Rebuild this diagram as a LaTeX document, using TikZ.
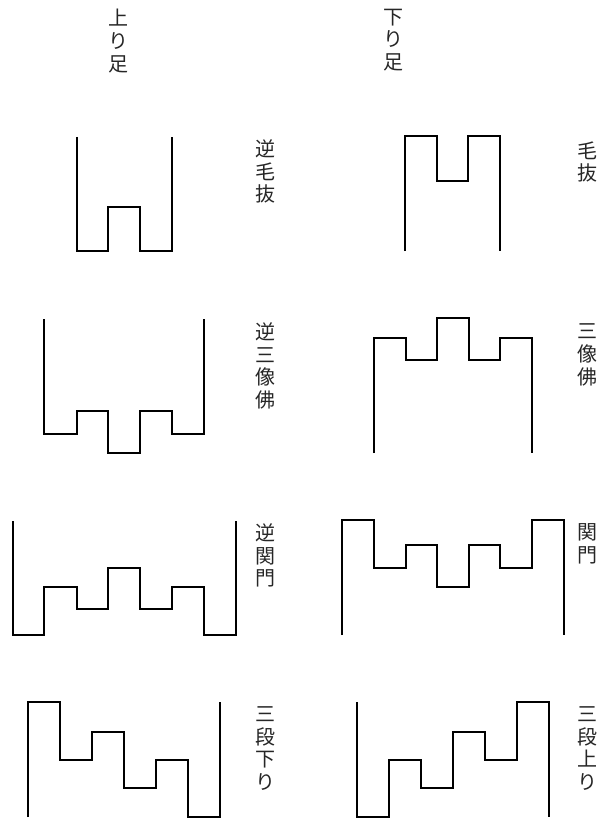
\documentclass[tikz,border=0pt]{standalone}
\usepackage{fontspec}
\newfontfamily\cjk{Noto Sans CJK JP}
\usepackage{tikz}

\begin{document}
\begin{tikzpicture}[x=1pt, y=-1pt,
      leg/.style={draw, line width=1.8pt, line join=miter},
      vlbl/.style={font=\cjk\fontsize{20}{22.7}\selectfont, align=center,
                   inner sep=0pt, text=black!85}
  ]
    \useasboundingbox (0,0) rectangle (603,821);
    \node[vlbl] (hup)   at (118,41)    {上\\り\\足};
    \node[vlbl] (hdown) at (393,40)    {下\\り\\足};
    \node[vlbl] (gkn)   at (265,171.5) {逆\\毛\\抜};
    \node[vlbl] (kn)    at (587,162)   {毛\\抜};
    \node[vlbl] (gsz)   at (265,366)   {逆\\三\\像\\佛};
    \node[vlbl] (sz)    at (587,355)   {三\\像\\佛};
    \node[vlbl] (gkm)   at (265,555.5) {逆\\関\\門};
    \node[vlbl] (km)    at (587,543.5) {関\\門};
    \node[vlbl] (sdn)   at (265,748.5) {三\\段\\下\\り};
    \node[vlbl] (sup)   at (587,748.5) {三\\段\\上\\り};
    \draw[leg] (77,137) -- (77,251) -- (108,251) -- (108,207) -- (140,207)
      -- (140,251) -- (172,251) -- (172,137);
    \draw[leg] (405,251) -- (405,136) -- (437,136) -- (437,181) -- (468,181)
      -- (468,136) -- (500,136) -- (500,251);
    \draw[leg] (44,319) -- (44,434) -- (77,434) -- (77,411) -- (108,411)
      -- (108,453) -- (140,453) -- (140,411) -- (172,411) -- (172,434)
      -- (204,434) -- (204,319);
    \draw[leg] (374,453) -- (374,338) -- (406,338) -- (406,360) -- (437,360)
      -- (437,318) -- (469,318) -- (469,360) -- (500,360) -- (500,338)
      -- (532,338) -- (532,453);
    \draw[leg] (13,521) -- (13,635) -- (44,635) -- (44,587) -- (77,587)
      -- (77,609) -- (108,609) -- (108,568) -- (140,568) -- (140,609)
      -- (172,609) -- (172,587) -- (204,587) -- (204,635) -- (236,635)
      -- (236,521);
    \draw[leg] (342,635) -- (342,520) -- (374,520) -- (374,568) -- (406,568)
      -- (406,545) -- (437,545) -- (437,587) -- (469,587) -- (469,545)
      -- (500,545) -- (500,568) -- (532,568) -- (532,520) -- (564,520)
      -- (564,635);
    \draw[leg] (28,817) -- (28,702) -- (60,702) -- (60,760) -- (92,760)
      -- (92,732) -- (124,732) -- (124,788) -- (156,788) -- (156,760)
      -- (188,760) -- (188,817) -- (220,817) -- (220,702);
    \draw[leg] (357,702) -- (357,817) -- (389,817) -- (389,760) -- (421,760)
      -- (421,788) -- (453,788) -- (453,732) -- (485,732) -- (485,760)
      -- (517,760) -- (517,702) -- (549,702) -- (549,817);
  \end{tikzpicture}
\end{document}
